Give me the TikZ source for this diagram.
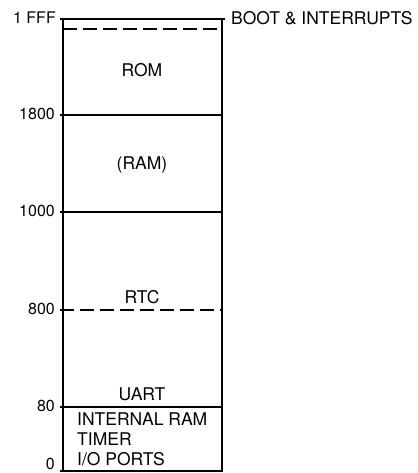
\documentclass[tikz,border=0pt]{standalone}
\usepackage{fontspec}
\setmainfont{TeX Gyre Heros}
\begin{document}
\begin{tikzpicture}[x=1pt,y=-1pt,line cap=butt,line join=miter]
  \useasboundingbox (0,0) rectangle (417,473);
  \tikzset{
    mapline/.style={line width=1.8pt},
    splitline/.style={line width=1.8pt,dash pattern=on 14pt off 6pt},
    addr/.style={font=\fontsize{16}{19}\selectfont,anchor=east,inner sep=0pt},
    region/.style={font=\fontsize{17.5}{20}\selectfont,inner sep=0pt}
  }
  % outline of the map
  \draw[mapline] (63,19)--(222,19)--(222,471)--(63,471)--cycle;
  % borders between regions
  \draw[mapline] (60,115)--(222,115);
  \draw[mapline] (60,212)--(222,212);
  \draw[mapline] (60,407)--(222,407);
  \draw[splitline] (63,29)--(222,29);
  \draw[splitline] (60,310)--(222,310);
  % ticks at the outline
  \draw[mapline] (60,19)--(63,19);
  \draw[mapline] (60,471)--(63,471);
  \draw[mapline] (222,19)--(225,19);
  % addresses
  \node[addr] (a1fff) at (56,18) {1 FFF};
  \node[addr] (a1800) at (55,114) {1800};
  \node[addr] (a1000) at (55,211) {1000};
  \node[addr] (a800) at (55,309) {800};
  \node[addr] (a80) at (55,406) {80};
  \node[addr,anchor=south east] (a0) at (55,470) {0};
  % regions
  \node[region,anchor=west] (boot) at (231,18) {BOOT \& INTERRUPTS};
  \node[region] (rom) at (142,70) {ROM};
  \node[region] (ram) at (142,165) {(RAM)};
  \node[region] (rtc) at (142,297) {RTC};
  \node[region] (uart) at (142,394) {UART};
  \node[region,anchor=west] (iram) at (77,419) {INTERNAL RAM};
  \node[region,anchor=west] (timer) at (77,439) {TIMER};
  \node[region,anchor=west] (ports) at (77,459) {I/O PORTS};
\end{tikzpicture}
\end{document}
